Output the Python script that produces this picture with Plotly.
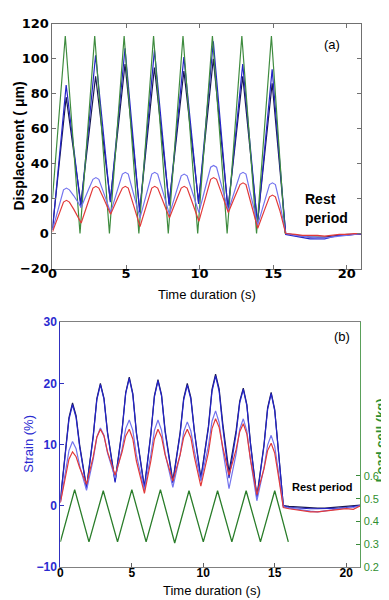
import plotly.graph_objects as go

# ---------------- Panel (a): displacement (um) ----------------
T_A_GREEN = [0, 0.87, 1.87, 2.87, 3.87, 4.87, 5.87, 6.87, 7.87, 8.87, 9.87,
             10.87, 11.87, 12.87, 13.87, 14.88, 15.8]
A_GREEN = [20, 113, 0, 113, 0, 113, 0, 113, 0, 113, 0, 113, 0, 113, 0, 113, 0]

T_A_HI = [0, 0.93, 1.93, 2.93, 3.93, 4.93, 5.93, 6.93, 7.93, 8.93, 9.93, 10.93,
          11.93, 12.93, 13.93, 14.93, 15.85, 16.5, 17, 17.5, 18, 18.5, 19, 19.5,
          20, 20.5, 21]
A_NAVY = [3, 78, 17, 90, 19, 97, 13, 95, 17, 93, 18, 100, 14, 90, 6, 86, 0,
          -1, -1.5, -2, -2, -2, -1.5, -1, -0.5, -0.5, 0]
A_BLUE = [2, 85, 15, 102, 18, 106, 12, 105, 16, 101, 17, 110, 13, 97, 5, 94, -0.5,
          -1.5, -2.5, -3, -3, -3, -2, -1, -1, -0.5, -0.5]

T_A_LO = [0,
          0.45, 0.75, 0.95, 1.15, 1.45, 1.95,
          2.45, 2.75, 2.95, 3.15, 3.45, 3.95,
          4.45, 4.75, 4.95, 5.15, 5.45, 5.95,
          6.45, 6.75, 6.95, 7.15, 7.45, 7.95,
          8.45, 8.75, 8.95, 9.15, 9.45, 9.95,
          10.45, 10.75, 10.95, 11.15, 11.45, 11.95,
          12.45, 12.75, 12.95, 13.15, 13.45, 13.95,
          14.45, 14.75, 14.95, 15.15, 15.45, 15.85,
          16.5, 17, 17.5, 18, 18.5, 19, 19.5, 20, 20.5, 21]
A_LIGHT = [2,
           16.4, 25, 26, 25, 21.6, 15,
           25.2, 31, 32, 31, 24, 12,
           25.8, 34, 35, 34, 24.6, 9,
           24.6, 34, 35, 34, 25.4, 11,
           24.8, 33, 34, 33, 25.2, 12,
           28.2, 38, 39, 38, 28.6, 13,
           26.2, 34, 35, 34, 23, 5,
           19.4, 28, 29, 28, 17.4, 0,
           -1, -1.5, -2, -2.5, -2.5, -2, -1.5, -1, -0.5, 0]
A_RED = [1,
         11.8, 18, 19, 18, 13.8, 6,
         18.6, 26, 27, 26, 20.6, 11,
         20.6, 26, 27, 26, 17.8, 4,
         17.8, 26, 27, 26, 19.8, 9,
         19.8, 26, 27, 26, 19, 7,
         22, 31, 32, 31, 24, 12,
         22.2, 28, 29, 28, 18.6, 3,
         14.4, 21, 22, 21, 13.2, 0,
         -0.5, -1, -1, -1, -1.5, -1, -0.5, -0.5, 0, 0]

# ---------------- Panel (b): strain (%) and load cell (kg) ----------------
T_B = [0, 0.35, 0.6, 0.85, 1.1, 1.35, 1.83,
       2.3, 2.55, 2.8, 3.05, 3.3, 3.83,
       4.32, 4.57, 4.82, 5.07, 5.32, 5.88,
       6.33, 6.58, 6.83, 7.08, 7.33, 7.87,
       8.38, 8.63, 8.88, 9.13, 9.38, 9.83,
       10.36, 10.61, 10.86, 11.11, 11.36, 11.8,
       12.3, 12.55, 12.8, 13.05, 13.3, 13.75,
       14.25, 14.5, 14.75, 15.0, 15.25, 15.6,
       16.0, 16.5, 17.0, 17.5, 18.0, 18.5, 19.0, 19.5, 20.0, 20.5, 21.0]
B_NAVY = [1, 8.9, 14.4, 16.8, 14.7, 9.9, 3,
          11.5, 17.5, 20, 17.6, 12, 4,
          12.5, 18.5, 21, 18.3, 12, 3,
          11.8, 18, 20.6, 18.1, 12.3, 4,
          12, 17.6, 20, 17.7, 12.2, 4.5,
          13, 19, 21.5, 19.1, 13.5, 5.5,
          12.3, 17.1, 19.2, 16.5, 10.3, 1.5,
          10, 16, 18.5, 15.7, 9.2, 0,
          -0.1, -0.2, -0.3, -0.3, -0.4, -0.4, -0.3, -0.3, -0.2, -0.1, 0.1]
B_BLUE = [0.8, 8.6, 14.1, 16.5, 14.4, 9.6, 2.8,
          11.3, 17.3, 19.8, 17.4, 11.8, 3.8,
          12.3, 18.3, 20.8, 18.1, 11.8, 2.8,
          11.6, 17.8, 20.4, 17.9, 12.0, 3.7,
          11.7, 17.3, 19.7, 17.4, 12.0, 4.2,
          12.7, 18.7, 21.2, 18.7, 12.9, 4.5,
          11.8, 16.8, 19.0, 16.3, 10.1, 1.2,
          9.8, 15.7, 18.3, 15.5, 9.1, 0,
          -0.3, -0.4, -0.5, -0.5, -0.5, -0.5, -0.4, -0.4, -0.3, -0.2, 0]
B_LIGHT = [0.5, 5.5, 9.0, 10.5, 9.3, 6.5, 2.5,
           7.6, 11.2, 12.7, 11.5, 8.6, 4.5,
           9.3, 12.6, 14.0, 12.3, 8.3, 2.5,
           8.3, 12.3, 14.0, 12.3, 8.5, 3,
           8.4, 12.1, 13.7, 12.2, 8.9, 4,
           9.8, 13.8, 15.5, 13.6, 9.2, 2.8,
           8.5, 12.5, 14.2, 12.2, 7.5, 0.8,
           6.2, 9.9, 11.5, 9.7, 5.7, -0.2,
           -0.4, -0.6, -0.8, -0.9, -1.0, -0.9, -0.7, -0.5, -0.4, -0.3, 0]
B_RED = [0.5, 4.6, 7.6, 8.8, 8.0, 6.2, 3.5,
         8.0, 11.2, 12.5, 11.4, 8.8, 5,
         8.8, 11.4, 12.5, 10.9, 7.3, 2,
         7.3, 10.9, 12.5, 11.2, 8.3, 4,
         8.3, 11.2, 12.5, 11.1, 7.9, 3.2,
         8.7, 12.6, 14.2, 12.8, 9.6, 5,
         9.2, 12.1, 13.4, 11.7, 7.6, 1.8,
         6.0, 9.0, 10.2, 8.6, 5.0, -0.3,
         -0.5, -0.7, -0.9, -1.0, -1.0, -0.9, -0.7, -0.6, -0.5, -0.6, 0]

T_LOAD = [0, 1, 2, 3, 4, 5, 6, 7, 8, 9, 10, 11, 12, 13, 14, 15, 15.95]
LOAD = [0.31, 0.54, 0.31, 0.535, 0.31, 0.54, 0.31, 0.54, 0.305, 0.535, 0.31,
        0.535, 0.31, 0.535, 0.31, 0.535, 0.31]

X_TICKS = [0, 5, 10, 15, 20]
A_Y_TICKS = [-20, 0, 20, 40, 60, 80, 100, 120]
B_Y_TICKS = [-10, 0, 10, 20, 30]
LOAD_TICKS = [0.2, 0.3, 0.4, 0.5, 0.6]

C_GREEN = "#3f8c3f"
C_NAVY = "#1a1a55"
C_BLUE = "#2424c8"
C_LIGHT = "#7474ee"
C_RED = "#e23a3a"
C_LOAD = "#2a7d2a"
C_STRAIN = "#2a2ad0"
C_LOADTXT = "#2f8f2f"

fig = go.Figure()
lw = 1.2


def add(x, y, color, xa, ya, width=lw):
    fig.add_trace(go.Scatter(x=x, y=y, mode="lines", xaxis=xa, yaxis=ya,
                             line=dict(color=color, width=width),
                             showlegend=False, hoverinfo="skip"))


# panel (a)
add(T_A_HI, A_NAVY, C_NAVY, "x", "y")
add(T_A_HI, A_BLUE, C_BLUE, "x", "y")
add(T_A_GREEN, A_GREEN, C_GREEN, "x", "y")
add(T_A_LO, A_LIGHT, C_LIGHT, "x", "y")
add(T_A_LO, A_RED, C_RED, "x", "y")

# panel (b)
add(T_B, B_NAVY, C_NAVY, "x2", "y2")
add(T_B, B_BLUE, C_BLUE, "x2", "y2")
add(T_B, B_LIGHT, C_LIGHT, "x2", "y2")
add(T_B, B_RED, C_RED, "x2", "y2")
add(T_LOAD, LOAD, C_LOAD, "x2", "y3", width=1.3)

W, H = 389, 600
dom_ax = [40 / W, 353 / W]
dom_ay = [(H - 260) / H, (H - 9) / H]
dom_bx = [48 / W, 352 / W]
dom_by = [(H - 566) / H, (H - 315) / H]

tickfont_a = dict(family="DejaVu Sans", size=13, color="black", weight="bold")
tickfont_bx = dict(family="Liberation Sans", size=12, color="black", weight="bold")

fig.update_layout(
    width=W, height=H,
    margin=dict(l=0, r=0, t=0, b=0),
    paper_bgcolor="white", plot_bgcolor="white",
    showlegend=False,
    xaxis=dict(domain=dom_ax, anchor="y", range=[0, 21], tickvals=X_TICKS,
               showgrid=False, zeroline=False, showline=True, mirror="ticks",
               linecolor="#707070", linewidth=1, ticks="inside", ticklen=4,
               tickcolor="#707070", tickfont=tickfont_a, ticklabelstandoff=-7),
    yaxis=dict(domain=dom_ay, anchor="x", range=[-20, 120], tickvals=A_Y_TICKS,
               showgrid=False, zeroline=False, showline=True, mirror="ticks",
               linecolor="#707070", linewidth=1, ticks="inside", ticklen=4,
               tickcolor="#707070", tickfont=tickfont_a, ticklabelstandoff=0),
    xaxis2=dict(domain=dom_bx, anchor="y2", range=[0, 21], tickvals=X_TICKS,
                showgrid=False, zeroline=False, showline=True, mirror=True,
                linecolor="#808080", linewidth=1, ticks="inside", ticklen=4,
                tickcolor="#606060", tickfont=tickfont_bx, ticklabelstandoff=-5),
    yaxis2=dict(domain=dom_by, anchor="x2", range=[-10, 30], tickvals=B_Y_TICKS,
                showgrid=False, zeroline=False, showline=True, mirror=False,
                linecolor="#3030c0", linewidth=1, ticks="inside", ticklen=4,
                tickcolor="#3030c0",
                tickfont=dict(family="Liberation Sans", size=12, color=C_STRAIN,
                              weight="bold"),
                ticklabelstandoff=0),
    yaxis3=dict(overlaying="y2", anchor="x2", side="right", range=[0.2, 1.277],
                tickvals=LOAD_TICKS, tickformat=".1f",
                showgrid=False, zeroline=False, showline=True,
                linecolor="#5aa05a", linewidth=1, ticks="inside", ticklen=4,
                tickcolor="#3a8a3a",
                tickfont=dict(family="Liberation Sans", size=11, color=C_LOADTXT),
                ticklabelstandoff=0),
)

ann = []
# axis titles
ann.append(dict(text="<b>Displacement ( μm)</b>", x=6, y=134, textangle=-90,
                font=dict(family="Liberation Sans", size=14, color="black")))
ann.append(dict(text="Time duration (s)", x=197, y=287,
                font=dict(family="Liberation Sans", size=13, color="black")))
ann.append(dict(text="Strain (%)", x=16, y=440, textangle=-90,
                font=dict(family="Liberation Sans", size=13, color=C_STRAIN)))
ann.append(dict(text="<b>Load cell (kg)</b>", x=372, y=436, textangle=-90,
                font=dict(family="Liberation Sans", size=13, color=C_LOADTXT)))
ann.append(dict(text="Time duration (s)", x=202, y=590,
                font=dict(family="Liberation Sans", size=13, color="black")))
# panel labels
ann.append(dict(text="(a)", x=323, y=30,
                font=dict(family="Liberation Sans", size=13, color="black")))
ann.append(dict(text="(b)", x=333, y=330,
                font=dict(family="Liberation Sans", size=13, color="black")))
ann.append(dict(text="<b>Rest</b>", x=294, y=189, xanchor="left",
                font=dict(family="Liberation Sans", size=14, color="black")))
ann.append(dict(text="<b>period</b>", x=294, y=208, xanchor="left",
                font=dict(family="Liberation Sans", size=14, color="black")))
ann.append(dict(text="<b>Rest period</b>", x=314, y=484,
                font=dict(family="Liberation Sans", size=11, color="black")))

for a in ann:
    a.setdefault("xanchor", "center")
    fig.add_annotation(xref="paper", yref="paper", x=a.pop("x") / W,
                       y=1 - a.pop("y") / H, yanchor="middle", showarrow=False,
                       **a)

fig.write_html("out.html")
